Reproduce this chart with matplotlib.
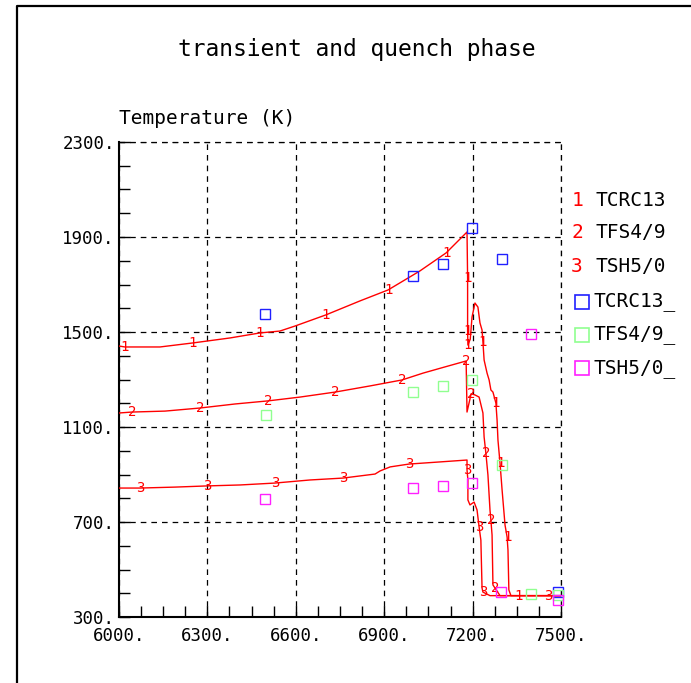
import matplotlib
matplotlib.use("Agg")
import matplotlib.pyplot as plt
from matplotlib.lines import Line2D

# curve 1 : TCRC13
t1 = [6000, 6020, 6139, 6251, 6377, 6478, 6546, 6597, 6702, 6818, 6913, 7021, 7110, 7181,
      7183, 7183, 7184, 7192, 7198, 7208, 7218, 7225, 7232, 7235, 7239, 7249, 7256, 7262,
      7269, 7279, 7283, 7286, 7293, 7300, 7310, 7317, 7320, 7323, 7330, 7357, 7500]
T1 = [1441, 1437, 1437, 1454, 1475, 1496, 1504, 1525, 1572, 1631, 1677, 1757, 1833, 1921,
      1727, 1505, 1445, 1470, 1563, 1622, 1605, 1538, 1508, 1458, 1382, 1327, 1298, 1256,
      1247, 1201, 1129, 1045, 948, 835, 687, 637, 582, 414, 390, 390, 390]
lab1 = [1, 3, 5, 8, 10, 12, 14, 15, 16, 23, 29, 32, 35, 39]

# curve 2 : TFS4/9
t2 = [6000, 6044, 6156, 6275, 6394, 6506, 6614, 6733, 6852, 6960, 7032, 7106, 7178,
      7181, 7195, 7208, 7222, 7235, 7239, 7245, 7252, 7259, 7262, 7266, 7269, 7276, 7293, 7500]
T2 = [1159, 1163, 1167, 1180, 1197, 1210, 1226, 1247, 1273, 1298, 1327, 1353, 1378,
      1163, 1240, 1235, 1226, 1159, 1058, 990, 898, 750, 708, 645, 435, 422, 390, 390]
lab2 = [1, 3, 5, 7, 9, 12, 14, 19, 22, 25]

# curve 3 : TSH5/0
t3 = [6000, 6071, 6190, 6299, 6411, 6529, 6648, 6760, 6869, 6886, 6920, 6984, 7089, 7181,
      7181, 7184, 7184, 7191, 7205, 7215, 7222, 7228, 7232, 7235, 7259, 7456, 7500]
T3 = [843, 843, 847, 852, 856, 864, 877, 885, 902, 915, 932, 944, 953, 961,
      919, 877, 793, 772, 784, 751, 679, 624, 422, 405, 390, 390, 390]
lab3 = [1, 3, 5, 7, 11, 14, 20, 23, 25]

# measured values
tb = [6495, 6998, 7099, 7198, 7300, 7490]
Tb = [1576, 1736, 1786, 1938, 1807, 405]
tg = [6499, 6998, 7099, 7198, 7300, 7398, 7490]
Tg = [1150, 1247, 1273, 1298, 940, 397, 392]
tm = [6495, 6998, 7099, 7198, 7297, 7398, 7490]
Tm = [797, 843, 852, 864, 405, 1492, 372]

xticks = [6000, 6300, 6600, 6900, 7200, 7500]
yticks = [300, 700, 1100, 1500, 1900, 2300]

mono = "DejaVu Sans Mono"
red = "#ff0000"
blue = "#2020ff"
green = "#90ff90"
magenta = "#ff20ff"

fig = plt.figure(figsize=(6.91, 6.83), dpi=100)
ax = fig.add_axes([0.1722, 0.0966, 0.6397, 0.6955])

curves = [(t1, T1, lab1, "1"), (t2, T2, lab2, "2"), (t3, T3, lab3, "3")]
for t, T, lab, s in curves:
    ax.plot(t, T, color=red, lw=1.0, zorder=3)
    for i in lab:
        ax.text(t[i], T[i], s, color=red, fontsize=10, family=mono,
                ha="center", va="center", zorder=4)

for t, T, c in [(tb, Tb, blue), (tg, Tg, green), (tm, Tm, magenta)]:
    ax.plot(t, T, ls="none", marker="s", ms=7.5, mfc="none", mec=c, mew=1.0,
            zorder=5, clip_on=False)

ax.set_xlim(6000, 7500)
ax.set_ylim(300, 2300)
ax.set_xticks(xticks)
ax.set_xticks(list(range(6000, 7501, 75)), minor=True)
ax.set_yticks(yticks)
ax.set_yticks(list(range(300, 2301, 100)), minor=True)
ax.set_xticklabels([f"{v}." for v in xticks], family=mono, fontsize=12.5)
ax.set_yticklabels([f"{v}." for v in yticks], family=mono, fontsize=12.5)
ax.tick_params(which="both", direction="in", length=8, width=1, top=False, right=False)
ax.tick_params(axis="x", which="major", pad=7)
ax.tick_params(axis="y", which="major", pad=3)
ax.grid(True, which="major", color="black", ls=(0, (4.5, 4)), lw=0.9)
ax.axvline(7500, color="black", ls=(0, (4.5, 4)), lw=0.9, clip_on=False)
ax.axhline(2300, color="black", ls=(0, (4.5, 4)), lw=0.9, clip_on=False)
for side in ["top", "right"]:
    ax.spines[side].set_visible(False)
for side in ["left", "bottom"]:
    ax.spines[side].set_linewidth(1.5)

ax.text(0, 1.05, "Temperature (K)", transform=ax.transAxes, family=mono,
        fontsize=14, ha="left", va="center")
fig.text(0.517, 0.927, "transient and quench phase", family=mono, fontsize=16.5,
         ha="center", va="center")

# legend
leg_y = [200, 233, 267, 302, 335, 368]
for k, (d, name) in enumerate([("1", "TCRC13"), ("2", "TFS4/9"), ("3", "TSH5/0")]):
    y = 1 - leg_y[k] / 683
    fig.text(577 / 691, y, d, color=red, family=mono, fontsize=14, ha="center", va="center")
    fig.text(595 / 691, y, name, family=mono, fontsize=14, ha="left", va="center")
for k, (c, name) in enumerate([(blue, "TCRC13_"), (green, "TFS4/9_"), (magenta, "TSH5/0_")]):
    y = 1 - leg_y[k + 3] / 683
    fig.add_artist(Line2D([582 / 691], [y], marker="s", ms=10, mfc="none", mec=c, mew=1.2,
                          transform=fig.transFigure))
    fig.text(593 / 691, y, name, family=mono, fontsize=14, ha="left", va="center")

# page frame
fig.add_artist(Line2D([17 / 691, 17 / 691, 1.0], [0.0, 1 - 6 / 683, 1 - 6 / 683],
                      color="black", lw=1.6, transform=fig.transFigure))

fig.savefig("out.png", dpi=100)
